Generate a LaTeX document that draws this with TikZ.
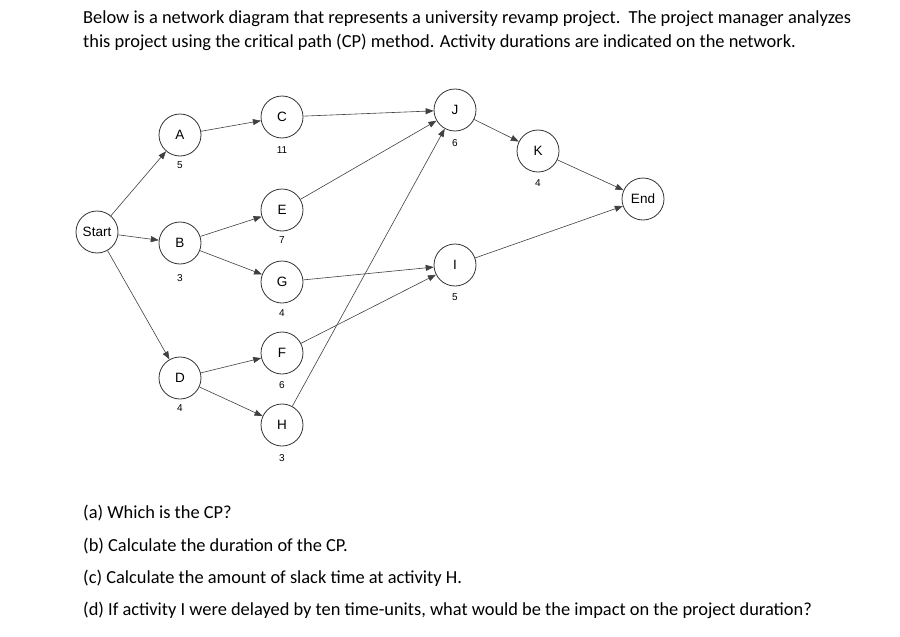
\documentclass[tikz,border=0pt]{standalone}
\usepackage{fontspec}
\setmainfont{Carlito}
\newfontfamily\arialf{Liberation Sans}
\usetikzlibrary{arrows.meta}
\begin{document}
\begin{tikzpicture}[x=1pt,y=-1pt,
  act/.style={circle,draw=black!80,line width=0.8pt,minimum size=42pt,inner sep=0pt,font=\arialf\fontsize{13.5}{15}\selectfont},
  dur/.style={font=\arialf\fontsize{10}{11}\selectfont},
  con/.style={draw=black!75,line width=0.6pt,-{Triangle[length=8pt,width=6pt]}},
  txt/.style={anchor=west,inner sep=0pt,font=\fontsize{18.4}{21}\selectfont}]
\useasboundingbox (0,0) rectangle (900,637);
\node[txt] (t1) at (83,19) {Below is a network diagram that represents a university revamp project.\ \ The project manager analyzes};
\node[txt] (t2) at (83,42) {this project using the critical path (CP) method. Activity durations are indicated on the network.};
\node[act] (S) at (97,232) {Start};
\node[act] (A) at (180,135) {A};
\node[act] (B) at (180,243) {B};
\node[act] (D) at (180,378) {D};
\node[act] (C) at (282,117) {C};
\node[act] (E) at (282,210) {E};
\node[act] (G) at (282,282) {G};
\node[act] (F) at (282,353) {F};
\node[act] (H) at (282,425) {H};
\node[act] (J) at (455,110) {J};
\node[act] (I) at (455,265) {I};
\node[act] (K) at (538,151) {K};
\node[act] (End) at (643,199) {End};
\node[dur] (dA) at (180,165) {5};
\node[dur] (dB) at (180,278) {3};
\node[dur] (dD) at (180,408) {4};
\node[dur] (dC) at (282,150) {11};
\node[dur] (dE) at (282,240) {7};
\node[dur] (dG) at (282,313) {4};
\node[dur] (dF) at (282,385) {6};
\node[dur] (dH) at (282,458) {3};
\node[dur] (dJ) at (455,143) {6};
\node[dur] (dI) at (455,297) {5};
\node[dur] (dK) at (538,183) {4};
\foreach \a/\b in {S/A,S/B,S/D,A/C,B/E,B/G,D/F,D/H,C/J,E/J,H/J,G/I,F/I,J/K,K/End,I/End}
  \draw[con] (\a) -- (\b);
\node[txt] (q1) at (83,513) {(a) Which is the CP?};
\node[txt] (q2) at (83,546) {(b) Calculate the duration of the CP.};
\node[txt] (q3) at (83,578) {(c) Calculate the amount of slack time at activity H.};
\node[txt] (q4) at (83,610) {(d) If activity I were delayed by ten time-units, what would be the impact on the project duration?};
\end{tikzpicture}
\end{document}
